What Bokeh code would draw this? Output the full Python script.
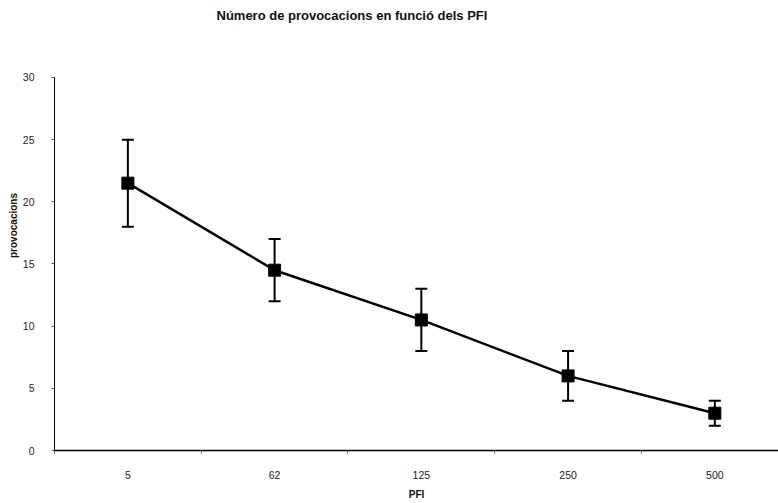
from bokeh.plotting import figure
from bokeh.models import (Range1d, FixedTicker, LinearAxis, Whisker,
                          ColumnDataSource, TeeHead, Label)
from bokeh.embed import file_html
from bokeh.resources import INLINE

# ---- data ----
categories = ["5", "62", "125", "250", "500"]
means = [21.5, 14.5, 10.5, 6.0, 3.0]
upper = [25.0, 17.0, 13.0, 8.0, 4.0]
lower = [18.0, 12.0, 8.0, 4.0, 2.0]
y_ticks = [0, 5, 10, 15, 20, 25, 30]
y_max = 30
title_text = "Número de provocacions en funció dels PFI"
y_title = "provocacions"
x_title = "PFI"

FONT = "Liberation Sans"

xs = [i + 0.5 for i in range(len(categories))]
src = ColumnDataSource(dict(x=xs, y=means, upper=upper, lower=lower))

# frame spans the whole canvas height above the x axis; the y axis line is
# bounded to 0..30 and the space above it holds the title
p = figure(width=778, height=503,
           x_range=Range1d(0, 4.934), y_range=Range1d(0, 36.19),
           output_backend="svg", toolbar_location=None,
           x_axis_type=None, y_axis_type=None,
           min_border_left=54, min_border_right=0,
           min_border_top=0, min_border_bottom=53)
p.title.text = ""
p.outline_line_color = None
p.background_fill_color = "white"
p.border_fill_color = "white"
p.xgrid.visible = False
p.ygrid.visible = False

# title
title = Label(x=1.104, y=34.99, text=title_text, text_font=FONT,
              text_font_size="13px", text_font_style="bold",
              text_color="#111111", text_baseline="middle",
              text_align="left")
p.add_layout(title)

# y axis
yax = LinearAxis(ticker=FixedTicker(ticks=y_ticks), bounds=(0, y_max))
yax.axis_line_color = "black"
yax.axis_line_width = 1
yax.major_tick_out = 3
yax.major_tick_in = 0
yax.minor_tick_out = 0
yax.minor_tick_in = 0
yax.major_tick_line_color = "#555555"
yax.major_label_standoff = 17
yax.major_label_text_font = FONT
yax.major_label_text_font_size = "10.5px"
yax.major_label_text_color = "#222222"
yax.axis_label = y_title
yax.axis_label_text_font = FONT
yax.axis_label_text_font_size = "10px"
yax.axis_label_text_font_style = "bold"
yax.axis_label_text_color = "#111111"
yax.axis_label_standoff = 1
p.add_layout(yax, "left")

# x axis: boundary ticks
xt = LinearAxis(ticker=FixedTicker(ticks=list(range(len(categories) + 1))))
xt.axis_line_color = "black"
xt.axis_line_width = 1.5
xt.major_tick_out = 3
xt.major_tick_in = 0
xt.minor_tick_out = 0
xt.minor_tick_in = 0
xt.major_tick_line_color = "#555555"
xt.major_label_text_font_size = "0px"
xt.major_label_standoff = 0
xt.major_label_overrides = {i: "" for i in range(len(categories) + 1)}
p.add_layout(xt, "below")

# x axis: category labels at centres
xl = LinearAxis(ticker=FixedTicker(ticks=xs))
xl.axis_line_color = None
xl.major_tick_line_color = None
xl.minor_tick_line_color = None
xl.major_tick_out = 0
xl.major_tick_in = 0
xl.major_label_standoff = 17
xl.major_label_overrides = {x: c for x, c in zip(xs, categories)}
xl.major_label_text_font = FONT
xl.major_label_text_font_size = "10.5px"
xl.major_label_text_color = "#222222"
xl.axis_label = x_title
xl.axis_label_text_font = FONT
xl.axis_label_text_font_size = "10px"
xl.axis_label_text_font_style = "bold"
xl.axis_label_text_color = "#111111"
xl.axis_label_standoff = 7
p.add_layout(xl, "below")

# error bars
wh = Whisker(base="x", upper="upper", lower="lower", source=src,
             line_color="black", line_width=2,
             upper_head=TeeHead(size=12, line_width=2, line_color="black"),
             lower_head=TeeHead(size=12, line_width=2, line_color="black"))
p.add_layout(wh)

p.line("x", "y", source=src, line_color="black", line_width=2.5)
p.scatter("x", "y", source=src, marker="square", size=12,
          fill_color="black", line_color="black")

open("out.html", "w").write(file_html(p, INLINE))
